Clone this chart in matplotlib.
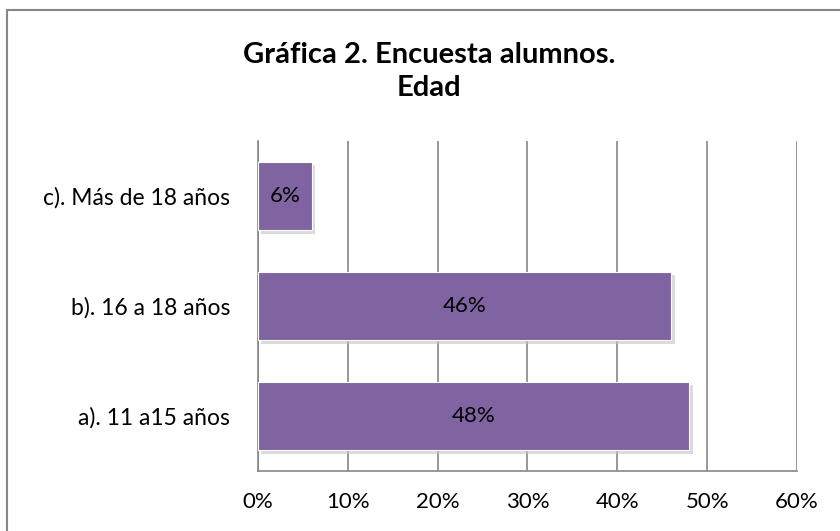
import matplotlib.pyplot as plt
import matplotlib.patheffects as pe
from matplotlib.patches import Rectangle
from matplotlib.ticker import PercentFormatter

plt.rcParams['font.family'] = ['Lato', 'DejaVu Sans']

categorias = ["a). 11 a15 años", "b). 16 a 18 años", "c). Más de 18 años"]
valores = [48, 46, 6]
ticks_x = [0, 10, 20, 30, 40, 50, 60]

morado = "#8064A2"
gris = "#868686"

fig = plt.figure(figsize=(8.4, 5.31), dpi=100)
ax = fig.add_axes([0.3071, 0.1130, 0.6417, 0.6215])

# marco del grafico
fig.patches.append(Rectangle((7 / 840, -0.1), 1.2, 1 - 10 / 531 + 0.1,
                             transform=fig.transFigure, fill=False,
                             edgecolor=gris, linewidth=1.5))

sombra = [pe.SimplePatchShadow(offset=(2.5, -2.5), shadow_rgbFace="#c4c4c4", alpha=0.6),
          pe.Normal()]
barras = ax.barh(range(len(categorias)), valores, height=0.62, color=morado,
                 edgecolor="white", linewidth=0.8, zorder=3)
for b in barras:
    b.set_path_effects(sombra)

for i, v in enumerate(valores):
    ax.text(v / 2, i, f"{v}%", ha="center", va="center", fontsize=16,
            color="black", zorder=4)

ax.set_xlim(0, 60)
ax.set_ylim(-0.5, 2.5)
ax.set_xticks(ticks_x)
ax.xaxis.set_major_formatter(PercentFormatter(decimals=0))
ax.set_yticks(range(len(categorias)))
ax.set_yticklabels(categorias)
ax.tick_params(axis="x", length=0, pad=15, labelsize=16)
ax.tick_params(axis="y", length=0, pad=20, labelsize=16.5)
ax.grid(axis="x", color=gris, linewidth=1.2, zorder=0)
ax.set_axisbelow(True)

for s in ["top", "right"]:
    ax.spines[s].set_visible(False)
for s in ["left", "bottom"]:
    ax.spines[s].set_color(gris)
    ax.spines[s].set_linewidth(1.2)

fig.text(0.5107, 1 - 71.5 / 531, "Gráfica 2. Encuesta alumnos.\nEdad", ha="center",
         va="center", fontsize=21, fontweight="bold", linespacing=1.32)

fig.savefig("out.png", dpi=100)
